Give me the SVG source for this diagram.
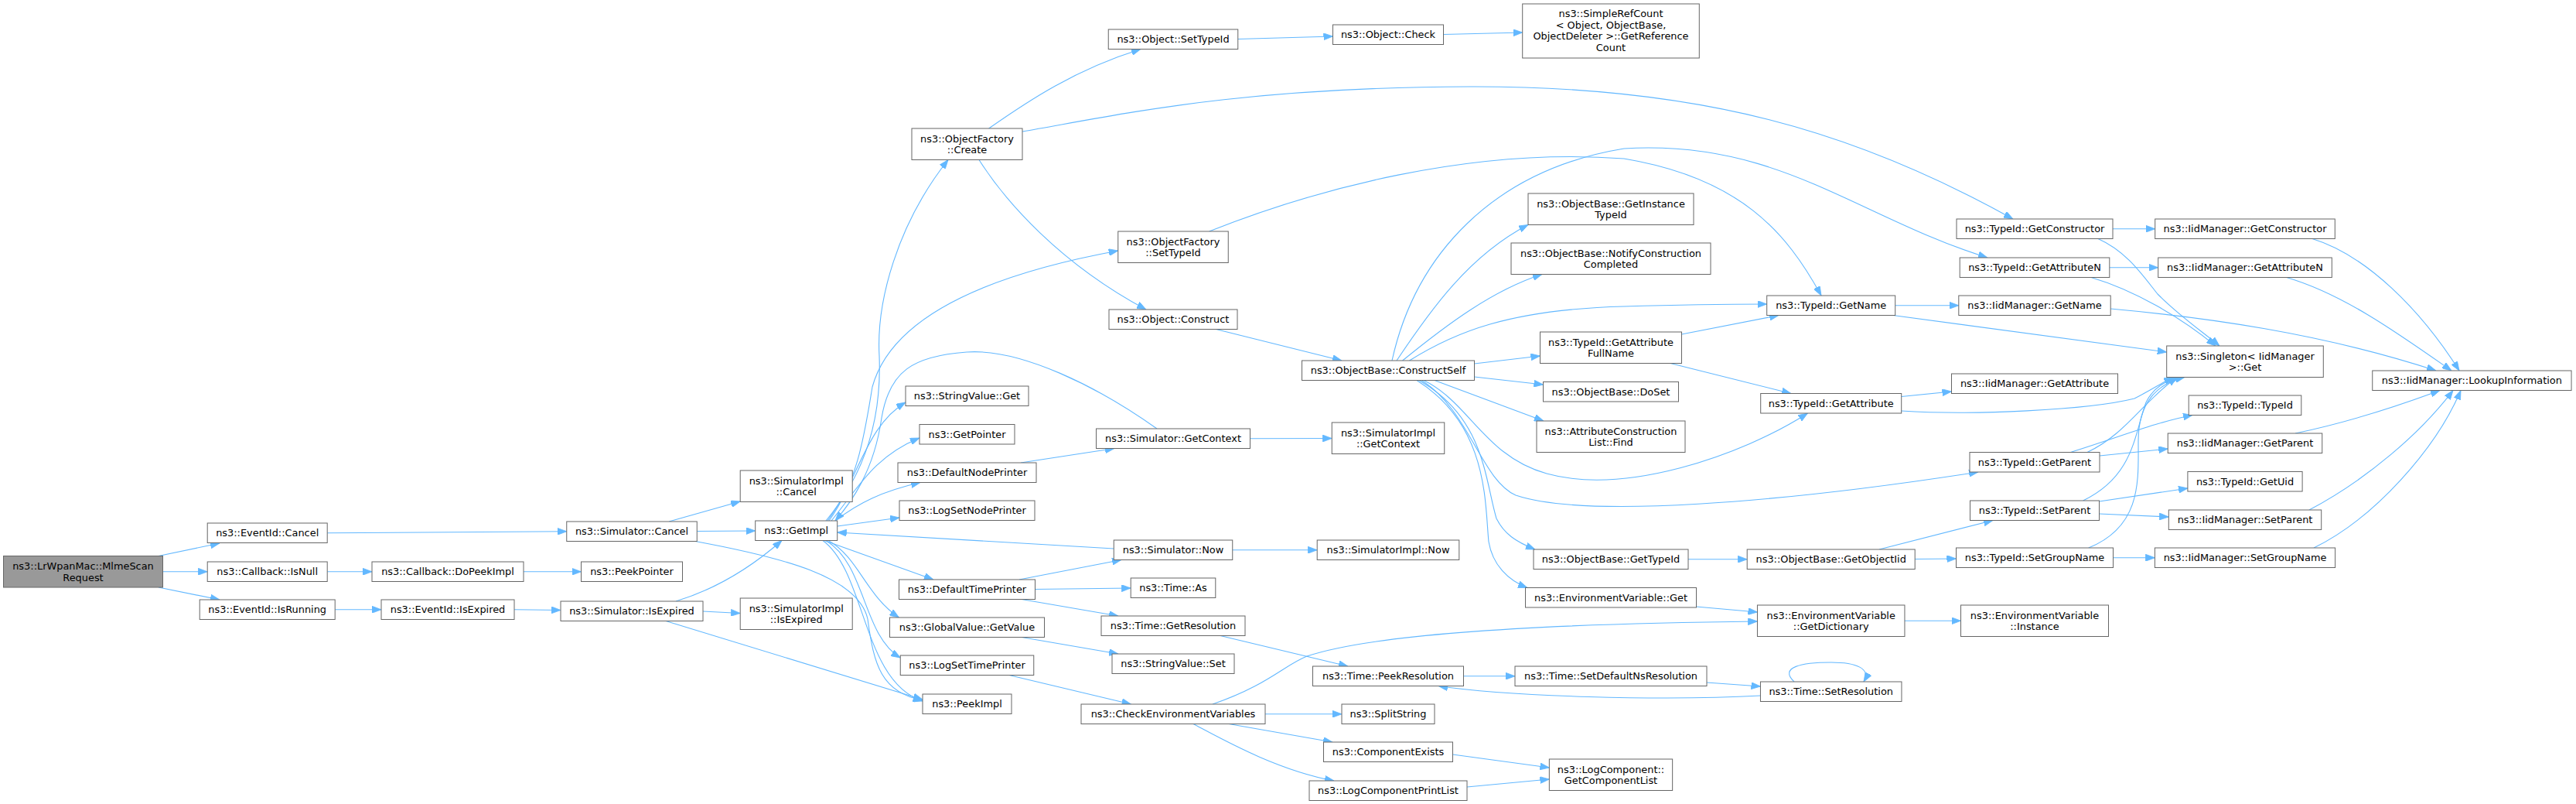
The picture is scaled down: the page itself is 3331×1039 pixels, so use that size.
<svg xmlns="http://www.w3.org/2000/svg" width="3331" height="1039" viewBox="0 0 3331 1039">
<style>
.n rect{fill:#ffffff;stroke:#666666;stroke-width:1}
.r rect{fill:#999999;stroke:#666666;stroke-width:1}
text{font-family:"DejaVu Sans","Liberation Sans",sans-serif;font-size:12.9px;text-anchor:middle;fill:#000000}
.e path{fill:none;stroke:#63b8ff;stroke-width:1.1;marker-end:url(#a)}
</style>
<defs>
<marker id="a" viewBox="0 0 12 9" refX="12" refY="4.5" markerWidth="12" markerHeight="9" markerUnits="userSpaceOnUse" orient="auto"><path d="M0,0L12,4.5L0,9z" fill="#63b8ff" stroke="#63b8ff" stroke-width="0.8"/></marker>
</defs>
<rect width="3331" height="1039" fill="#ffffff"/>
<g id="edges" class="e">
<path d="M205,718.5 L284,702"/>
<path d="M210.5,738.75 L268.2,738.75"/>
<path d="M205,759 L284,775"/>
<path d="M423.2,688.75 L732.75,686.75"/>
<path d="M423.2,738.75 L481,738.75"/>
<path d="M433.2,787.75 L493,787.75"/>
<path d="M677,738.75 L751.5,738.75"/>
<path d="M665,787.75 L725,788.5"/>
<path d="M865,674 L957.2,648"/>
<path d="M901.25,686.5 L976.7,686"/>
<path d="M899,699.5 C1010,720 1110,745 1122,800 C1130,860 1140,895 1193,905"/>
<path d="M874,777 C930,760 975,730 1011,698.5"/>
<path d="M909,790 L957.2,792.5"/>
<path d="M861,802.5 L1193,904"/>
<path d="M1068,673 C1120,610 1140,540 1137,460 C1133,390 1160,290 1226,206.5"/>
<path d="M1072,673 C1110,620 1118,560 1128,500 C1150,420 1250,360 1445.75,324"/>
<path d="M1496,554 C1420,500 1320,450 1250,455 C1180,460 1150,480 1140,540 C1130,610 1100,650 1080,673"/>
<path d="M1070,673 C1110,620 1120,550 1171,520"/>
<path d="M1075,673 C1110,630 1130,590 1189,566"/>
<path d="M1080,673 C1110,650 1140,635 1190,623.5"/>
<path d="M1082.7,680 L1163,669"/>
<path d="M1066,698.5 L1207,749"/>
<path d="M1071,698.5 C1110,720 1120,770 1162.5,798"/>
<path d="M1068,698.5 C1120,730 1115,820 1164.25,850"/>
<path d="M1064,698.5 C1120,740 1115,880 1193,906"/>
<path d="M1440.25,709 L1082.7,688"/>
<path d="M1320,598 L1441,579.5"/>
<path d="M1318,749 L1450,723.5"/>
<path d="M1338.5,761.5 L1462.2,760"/>
<path d="M1321,774.5 L1446,796"/>
<path d="M1321,823.5 L1446,845"/>
<path d="M1305,872.5 L1462.5,910"/>
<path d="M1616.5,566.75 L1722.25,566.5"/>
<path d="M1593.75,710.75 L1703.2,710.75"/>
<path d="M1578,821.5 L1743,861"/>
<path d="M1636,922.75 L1735,922.75"/>
<path d="M1589,935.5 L1723,959"/>
<path d="M1543,935.5 C1580,955 1650,995 1725,1009"/>
<path d="M1568,910 C1640,885 1660,860 1690,848 C1780,818 2000,806 2272.45,803"/>
<path d="M1892.5,873.75 L1959,873.75"/>
<path d="M2207,882 L2276.45,887"/>
<path d="M2276.45,899 C2150,906 1950,900 1860,886.5"/>
<path d="M2320,881 C2300,862 2330,856 2368,856 C2400,856 2420,864 2410,881"/>
<path d="M1878.5,975 L2003.35,992"/>
<path d="M1897,1017 L2003.35,1007"/>
<path d="M1866.5,44.5 L1968.7,42"/>
<path d="M1600.75,50.5 L1723.5,47"/>
<path d="M1278.6,166 C1330,130 1390,90 1475,63.5"/>
<path d="M1322,170 C1450,148 1600,113 1900,112 C2200,111 2400,170 2603,283"/>
<path d="M1266,206.5 C1300,260 1370,340 1482,400"/>
<path d="M1563.6,299 C1700,245 1900,190 2100,205 C2250,230 2310,300 2355,382"/>
<path d="M1572.5,425.5 L1735,466"/>
<path d="M1806,466 C1850,400 1900,330 1976,290.5"/>
<path d="M1813.6,466 C1870,420 1930,375 1994,354.5"/>
<path d="M1800,466 C1830,330 1930,220 2100,192 C2300,180 2400,280 2570,333"/>
<path d="M1822.5,466 C1880,430 1950,400 2100,396 C2200,393 2250,393 2284.7,393"/>
<path d="M1906.5,470 L1991.5,460"/>
<path d="M1906.5,487 L1995.5,497"/>
<path d="M1855,491.5 L1996,544"/>
<path d="M1841,491.5 C1900,520 1920,590 2000,612 C2100,640 2250,590 2337.5,534"/>
<path d="M1838,491.5 C1900,530 1915,620 1960,640 C2050,670 2300,650 2558,610"/>
<path d="M1835,491.5 C1920,540 1920,620 1935,670 C1945,690 1960,700 1985,710"/>
<path d="M1832,491.5 C1925,550 1920,650 1925,700 C1930,730 1950,750 1975,759.5"/>
<path d="M2174.5,432 L2300,407.5"/>
<path d="M2160,469.5 L2316,508.5"/>
<path d="M2450.7,394.75 L2532.8,394.75"/>
<path d="M2448,407.5 L2801.7,455"/>
<path d="M2458.7,512.5 L2523.5,506"/>
<path d="M2458.7,531 C2550,537 2700,530 2760,515 C2780,505 2795,495 2810,487.5"/>
<path d="M2183,722.75 L2259.2,722.75"/>
<path d="M2430,710 L2577,672.5"/>
<path d="M2476.2,722.5 L2529.5,722"/>
<path d="M2193.5,784 L2272.45,791"/>
<path d="M2462.95,802.25 L2535.5,802.25"/>
<path d="M2732,295.75 L2786.7,295.75"/>
<path d="M2713,308.5 C2750,325 2770,355 2790,380 C2820,410 2850,430 2870,447"/>
<path d="M2727.8,345.75 L2790.7,345.75"/>
<path d="M2704,358.5 C2760,375 2820,410 2865,447"/>
<path d="M2729.2,399 C2850,410 3000,430 3150,479"/>
<path d="M2990,308.5 C3060,330 3130,400 3180,479"/>
<path d="M2956.7,358.5 C3030,380 3100,430 3170,479"/>
<path d="M2968,560 C3040,545 3100,525 3155,504.5"/>
<path d="M2986,659 C3060,620 3130,560 3172,504.5"/>
<path d="M2992,708 C3070,670 3150,580 3182,504.5"/>
<path d="M2677.5,584.5 C2740,565 2790,545 2835,536.5"/>
<path d="M2715,589 L2803.25,580"/>
<path d="M2699,584.5 C2750,560 2770,520 2815,487.5"/>
<path d="M2714.5,648 L2829,631"/>
<path d="M2714.5,664 L2804.3,668"/>
<path d="M2693.6,647 C2760,615 2760,560 2775,520 C2785,500 2800,492 2820,487.5"/>
<path d="M2732.5,720.75 L2786.4,720.75"/>
<path d="M2700.7,708 C2770,680 2765,620 2765,570 C2765,520 2790,495 2825,487.5"/>
</g>
<g id="n_root" class="r"><rect x="4.5" y="718.5" width="206" height="40.5"/><text x="107.5" y="736.2">ns3::LrWpanMac::MlmeScan</text><text x="107.5" y="750.5">Request</text></g>
<g id="n_evcancel" class="n"><rect x="268.2" y="676" width="155" height="25.5"/><text x="345.7" y="693.35">ns3::EventId::Cancel</text></g>
<g id="n_isnull" class="n"><rect x="268.2" y="726" width="155" height="25.5"/><text x="345.7" y="743.35">ns3::Callback::IsNull</text></g>
<g id="n_isrunning" class="n"><rect x="258.2" y="775" width="175" height="25.5"/><text x="345.7" y="792.35">ns3::EventId::IsRunning</text></g>
<g id="n_dopeek" class="n"><rect x="481" y="726" width="196" height="25.5"/><text x="579" y="743.35">ns3::Callback::DoPeekImpl</text></g>
<g id="n_evexpired" class="n"><rect x="493" y="775" width="172" height="25.5"/><text x="579" y="792.35">ns3::EventId::IsExpired</text></g>
<g id="n_simcancel" class="n"><rect x="732.75" y="674" width="168.5" height="25.5"/><text x="817" y="691.35">ns3::Simulator::Cancel</text></g>
<g id="n_peekptr" class="n"><rect x="751.5" y="726" width="131" height="25.5"/><text x="817" y="743.35">ns3::PeekPointer</text></g>
<g id="n_simexpired" class="n"><rect x="725" y="777" width="184" height="25.5"/><text x="817" y="794.35">ns3::Simulator::IsExpired</text></g>
<g id="n_sicancel" class="n"><rect x="957.2" y="608" width="145" height="40.5"/><text x="1029.7" y="625.7">ns3::SimulatorImpl</text><text x="1029.7" y="640">::Cancel</text></g>
<g id="n_getimpl" class="n"><rect x="976.7" y="673" width="106" height="25.5"/><text x="1029.7" y="690.35">ns3::GetImpl</text></g>
<g id="n_siexpired" class="n"><rect x="957.2" y="773" width="145" height="40.5"/><text x="1029.7" y="790.7">ns3::SimulatorImpl</text><text x="1029.7" y="805">::IsExpired</text></g>
<g id="n_ofcreate" class="n"><rect x="1179" y="166" width="143" height="40.5"/><text x="1250.5" y="183.7">ns3::ObjectFactory</text><text x="1250.5" y="198">::Create</text></g>
<g id="n_strget" class="n"><rect x="1171" y="499" width="159" height="25.5"/><text x="1250.5" y="516.35">ns3::StringValue::Get</text></g>
<g id="n_getptr" class="n"><rect x="1189" y="548.5" width="123" height="25.5"/><text x="1250.5" y="565.85">ns3::GetPointer</text></g>
<g id="n_dnp" class="n"><rect x="1161" y="598" width="179" height="25.5"/><text x="1250.5" y="615.35">ns3::DefaultNodePrinter</text></g>
<g id="n_lsnp" class="n"><rect x="1163" y="647" width="175" height="25.5"/><text x="1250.5" y="664.35">ns3::LogSetNodePrinter</text></g>
<g id="n_dtp" class="n"><rect x="1162.5" y="749" width="176" height="25.5"/><text x="1250.5" y="766.35">ns3::DefaultTimePrinter</text></g>
<g id="n_gvget" class="n"><rect x="1150.5" y="798" width="200" height="25.5"/><text x="1250.5" y="815.35">ns3::GlobalValue::GetValue</text></g>
<g id="n_lstp" class="n"><rect x="1164.25" y="847" width="172.5" height="25.5"/><text x="1250.5" y="864.35">ns3::LogSetTimePrinter</text></g>
<g id="n_peekimpl" class="n"><rect x="1193" y="897" width="115" height="25.5"/><text x="1250.5" y="914.35">ns3::PeekImpl</text></g>
<g id="n_objsettypeid" class="n"><rect x="1433.25" y="38" width="167.5" height="25.5"/><text x="1517" y="55.35">ns3::Object::SetTypeId</text></g>
<g id="n_ofsettypeid" class="n"><rect x="1445.75" y="299" width="142.5" height="40.5"/><text x="1517" y="316.7">ns3::ObjectFactory</text><text x="1517" y="331">::SetTypeId</text></g>
<g id="n_objconstruct" class="n"><rect x="1434" y="400" width="166" height="25.5"/><text x="1517" y="417.35">ns3::Object::Construct</text></g>
<g id="n_simgetctx" class="n"><rect x="1417.5" y="554" width="199" height="25.5"/><text x="1517" y="571.35">ns3::Simulator::GetContext</text></g>
<g id="n_simnow" class="n"><rect x="1440.25" y="698" width="153.5" height="25.5"/><text x="1517" y="715.35">ns3::Simulator::Now</text></g>
<g id="n_timeas" class="n"><rect x="1462.2" y="747" width="109.6" height="25.5"/><text x="1517" y="764.35">ns3::Time::As</text></g>
<g id="n_timegetres" class="n"><rect x="1424" y="796" width="186" height="25.5"/><text x="1517" y="813.35">ns3::Time::GetResolution</text></g>
<g id="n_strset" class="n"><rect x="1438" y="845" width="158" height="25.5"/><text x="1517" y="862.35">ns3::StringValue::Set</text></g>
<g id="n_checkenv" class="n"><rect x="1398" y="910" width="238" height="25.5"/><text x="1517" y="927.35">ns3::CheckEnvironmentVariables</text></g>
<g id="n_objcheck" class="n"><rect x="1723.5" y="32" width="143" height="25.5"/><text x="1795" y="49.35">ns3::Object::Check</text></g>
<g id="n_constructself" class="n"><rect x="1683.5" y="466" width="223" height="25.5"/><text x="1795" y="483.35">ns3::ObjectBase::ConstructSelf</text></g>
<g id="n_sigetctx" class="n"><rect x="1722.25" y="546" width="145.5" height="40.5"/><text x="1795" y="563.7">ns3::SimulatorImpl</text><text x="1795" y="578">::GetContext</text></g>
<g id="n_sinow" class="n"><rect x="1703.2" y="698" width="183.6" height="25.5"/><text x="1795" y="715.35">ns3::SimulatorImpl::Now</text></g>
<g id="n_peekres" class="n"><rect x="1697.5" y="861" width="195" height="25.5"/><text x="1795" y="878.35">ns3::Time::PeekResolution</text></g>
<g id="n_split" class="n"><rect x="1735" y="910" width="120" height="25.5"/><text x="1795" y="927.35">ns3::SplitString</text></g>
<g id="n_compexists" class="n"><rect x="1711.5" y="959" width="167" height="25.5"/><text x="1795" y="976.35">ns3::ComponentExists</text></g>
<g id="n_lcprint" class="n"><rect x="1693" y="1009" width="204" height="25.5"/><text x="1795" y="1026.35">ns3::LogComponentPrintList</text></g>
<g id="n_simpleref" class="n"><rect x="1968.7" y="5" width="228.6" height="70"/><text x="2083" y="22">ns3::SimpleRefCount</text><text x="2083" y="36.5">&lt; Object, ObjectBase,</text><text x="2083" y="51">ObjectDeleter &gt;::GetReference</text><text x="2083" y="65.5">Count</text></g>
<g id="n_getinsttypeid" class="n"><rect x="1976" y="250" width="214" height="40.5"/><text x="2083" y="267.7">ns3::ObjectBase::GetInstance</text><text x="2083" y="282">TypeId</text></g>
<g id="n_notify" class="n"><rect x="1954" y="314" width="258" height="40.5"/><text x="2083" y="331.7">ns3::ObjectBase::NotifyConstruction</text><text x="2083" y="346">Completed</text></g>
<g id="n_gafullname" class="n"><rect x="1991.5" y="429" width="183" height="40.5"/><text x="2083" y="446.7">ns3::TypeId::GetAttribute</text><text x="2083" y="461">FullName</text></g>
<g id="n_doset" class="n"><rect x="1995.5" y="493.5" width="175" height="25.5"/><text x="2083" y="510.85">ns3::ObjectBase::DoSet</text></g>
<g id="n_aclfind" class="n"><rect x="1987" y="544" width="192" height="40.5"/><text x="2083" y="561.7">ns3::AttributeConstruction</text><text x="2083" y="576">List::Find</text></g>
<g id="n_obgettypeid" class="n"><rect x="1983" y="710" width="200" height="25.5"/><text x="2083" y="727.35">ns3::ObjectBase::GetTypeId</text></g>
<g id="n_envget" class="n"><rect x="1972.5" y="759.5" width="221" height="25.5"/><text x="2083" y="776.85">ns3::EnvironmentVariable::Get</text></g>
<g id="n_setdefns" class="n"><rect x="1959" y="861" width="248" height="25.5"/><text x="2083" y="878.35">ns3::Time::SetDefaultNsResolution</text></g>
<g id="n_lcgetlist" class="n"><rect x="2003.35" y="981" width="159.3" height="40.5"/><text x="2083" y="998.7">ns3::LogComponent::</text><text x="2083" y="1013">GetComponentList</text></g>
<g id="n_tgetname" class="n"><rect x="2284.7" y="382" width="166" height="25.5"/><text x="2367.7" y="399.35">ns3::TypeId::GetName</text></g>
<g id="n_tgetattr" class="n"><rect x="2276.7" y="508.5" width="182" height="25.5"/><text x="2367.7" y="525.85">ns3::TypeId::GetAttribute</text></g>
<g id="n_obgetobjiid" class="n"><rect x="2259.2" y="710" width="217" height="25.5"/><text x="2367.7" y="727.35">ns3::ObjectBase::GetObjectIid</text></g>
<g id="n_envgetdict" class="n"><rect x="2272.45" y="782" width="190.5" height="40.5"/><text x="2367.7" y="799.7">ns3::EnvironmentVariable</text><text x="2367.7" y="814">::GetDictionary</text></g>
<g id="n_timesetres" class="n"><rect x="2276.45" y="881" width="182.5" height="25.5"/><text x="2367.7" y="898.35">ns3::Time::SetResolution</text></g>
<g id="n_tgetctor" class="n"><rect x="2530" y="283" width="202" height="25.5"/><text x="2631" y="300.35">ns3::TypeId::GetConstructor</text></g>
<g id="n_tgetattrn" class="n"><rect x="2534.2" y="333" width="193.6" height="25.5"/><text x="2631" y="350.35">ns3::TypeId::GetAttributeN</text></g>
<g id="n_imgetname" class="n"><rect x="2532.8" y="382" width="196.4" height="25.5"/><text x="2631" y="399.35">ns3::IidManager::GetName</text></g>
<g id="n_imgetattr" class="n"><rect x="2523.5" y="483" width="215" height="25.5"/><text x="2631" y="500.35">ns3::IidManager::GetAttribute</text></g>
<g id="n_tgetparent" class="n"><rect x="2547" y="584.5" width="168" height="25.5"/><text x="2631" y="601.85">ns3::TypeId::GetParent</text></g>
<g id="n_tsetparent" class="n"><rect x="2547.5" y="647" width="167" height="25.5"/><text x="2631" y="664.35">ns3::TypeId::SetParent</text></g>
<g id="n_tsetgroup" class="n"><rect x="2529.5" y="708" width="203" height="25.5"/><text x="2631" y="725.35">ns3::TypeId::SetGroupName</text></g>
<g id="n_envinstance" class="n"><rect x="2535.5" y="782" width="191" height="40.5"/><text x="2631" y="799.7">ns3::EnvironmentVariable</text><text x="2631" y="814">::Instance</text></g>
<g id="n_imgetctor" class="n"><rect x="2786.7" y="283" width="232.6" height="25.5"/><text x="2903" y="300.35">ns3::IidManager::GetConstructor</text></g>
<g id="n_imgetattrn" class="n"><rect x="2790.7" y="333" width="224.6" height="25.5"/><text x="2903" y="350.35">ns3::IidManager::GetAttributeN</text></g>
<g id="n_singleton" class="n"><rect x="2801.7" y="447" width="202.6" height="40.5"/><text x="2903" y="464.7">ns3::Singleton&lt; IidManager</text><text x="2903" y="479">&gt;::Get</text></g>
<g id="n_ttypeid" class="n"><rect x="2830.2" y="511" width="145.6" height="25.5"/><text x="2903" y="528.35">ns3::TypeId::TypeId</text></g>
<g id="n_imgetparent" class="n"><rect x="2803.25" y="560" width="199.5" height="25.5"/><text x="2903" y="577.35">ns3::IidManager::GetParent</text></g>
<g id="n_tgetuid" class="n"><rect x="2828.9" y="609.5" width="148.2" height="25.5"/><text x="2903" y="626.85">ns3::TypeId::GetUid</text></g>
<g id="n_imsetparent" class="n"><rect x="2804.3" y="659" width="197.4" height="25.5"/><text x="2903" y="676.35">ns3::IidManager::SetParent</text></g>
<g id="n_imsetgroup" class="n"><rect x="2786.4" y="708" width="233.2" height="25.5"/><text x="2903" y="725.35">ns3::IidManager::SetGroupName</text></g>
<g id="n_lookup" class="n"><rect x="3067.75" y="479" width="257.3" height="25.5"/><text x="3196.4" y="496.35">ns3::IidManager::LookupInformation</text></g>
</svg>
